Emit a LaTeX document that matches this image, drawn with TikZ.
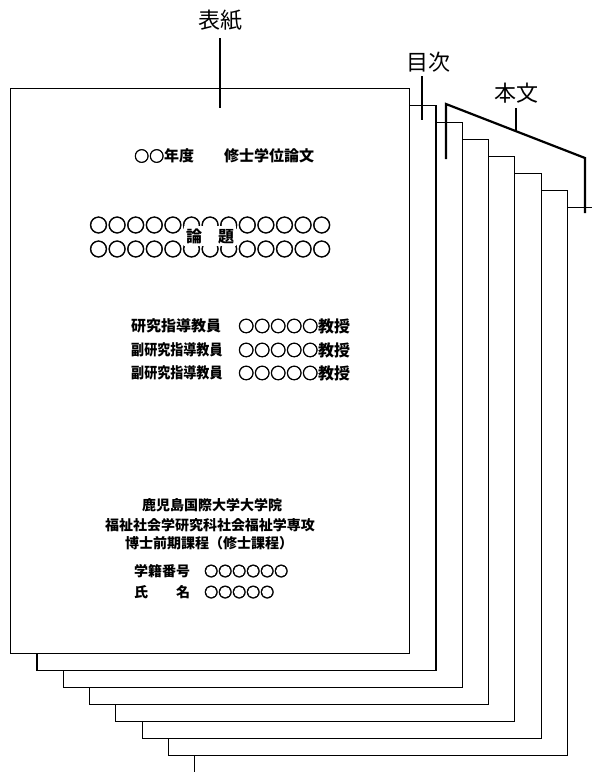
\documentclass[tikz,border=0pt]{standalone}
\usepackage{fontspec}
\usepackage{graphicx}
\usepackage{tikz}
\usetikzlibrary{positioning}
\newfontfamily\jp{Noto Sans CJK JP}
\newfontfamily\marufont[FakeBold=2.5]{Noto Sans CJK JP}
\newcommand\maru[1]{{\marufont #1}}

\begin{document}
\begin{tikzpicture}[%
    x=1pt,
    y=-1pt,
    page/.style={%
      draw,
      fill=white,
      line width=1.2pt,
      minimum width=399pt,
      minimum height=565pt,
      anchor=north west,
      inner sep=0pt
    },
    bracket/.style={%
      line width=2.2pt
    },
    lbl/.style={%
      font=\jp\fontsize{22}{22}\selectfont,
      inner sep=0pt
    },
    cover/.style={%
      font=\jp\bfseries\fontsize{#1}{#1}\selectfont,
      inner sep=0pt
    }
  ]
    \useasboundingbox (0,0) rectangle (592,772);
    \foreach \i in {7,6,...,0}
      \node[page] (p\i) at ({10+26.3*\i},{88+17*\i}) {};

    \coordinate (hyoshi-top) at (220,38);
    \coordinate (hyoshi-end) at (220,108);
    \coordinate (mokuji-top) at (422,76);
    \coordinate (mokuji-end) at (422,120);
    \coordinate (honbun-a)   at (446,159);
    \coordinate (honbun-l)   at (446,104);
    \coordinate (honbun-r)   at (585,158);
    \coordinate (honbun-b)   at (585,213);
    \coordinate (honbun-top) at (516,108);
    \coordinate (honbun-mid) at (516,131);

    \node[lbl] (hyoshi) [above=7pt of hyoshi-top]              {表紙};
    \node[lbl] (mokuji) [above=4pt of mokuji-top, xshift=6pt]  {目次};
    \node[lbl] (honbun) [above=5pt of honbun-top]              {本文};

    \draw[bracket] (hyoshi-top) -- (hyoshi-end);
    \draw[bracket] (mokuji-top) -- (mokuji-end);
    \draw[bracket] (honbun-a) -- (honbun-l) -- (honbun-r) -- (honbun-b);
    \draw[bracket] (honbun-top) -- (honbun-mid);

    \node[cover=15, anchor=west] (nendo) at (134,156) {\maru{○○}年度　　修士学位論文};
    \node[cover=18.6, anchor=west] (maru1) at (89,225) {\maru{○○○○○○○○○○○○○}};
    \node[cover=18.6, anchor=west] (maru2) at (89,249) {\maru{○○○○○○○○○○○○○}};
    \node[cover=16, fill=white, inner sep=2pt] (daimoku) at (210,236) {論　題};

    \node[cover=15, anchor=west] (shido)  at (131,326) {研究指導教員};
    \node[cover=15, anchor=west] (fuku1)  at (131,350) {\scalebox{.87}[1]{副研究指導教員}};
    \node[cover=15, anchor=west] (fuku2)  at (131,373) {\scalebox{.87}[1]{副研究指導教員}};
    \node[cover=16, anchor=west] (kyoju0) at (238,326) {\maru{○○○○○}教授};
    \node[cover=16, anchor=west] (kyoju1) at (238,350) {\maru{○○○○○}教授};
    \node[cover=16, anchor=west] (kyoju2) at (238,373) {\maru{○○○○○}教授};

    \node[cover=14] (daigaku) at (212,505) {鹿児島国際大学大学院};
    \node[cover=14] (senko)   at (210,525) {福祉社会学研究科社会福祉学専攻};
    \node[cover=14] (katei)   at (209,543) {博士前期課程（修士課程）};
    \node[cover=14, anchor=west] (bango)  at (134,571) {学籍番号　\maru{○○○○○○}};
    \node[cover=14, anchor=west] (shimei) at (134,592) {氏　　名　\maru{○○○○○}};
  \end{tikzpicture}
\end{document}
